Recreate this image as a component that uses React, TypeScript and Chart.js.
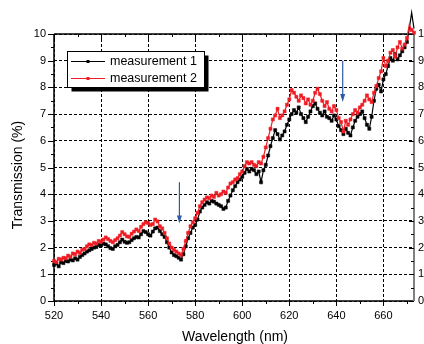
import { useEffect, useRef } from 'react';
import { Chart, registerables } from 'chart.js';

Chart.register(...registerables);

// wavelength grid: 520 … 673 nm, 1 nm sampling
const startWavelength = 520;
const sampleCount = 154;
const wavelengths: number[] = Array.from({ length: sampleCount }, (_, i) => startWavelength + i);

// measurement 1 (black)
const measurement1: number[] = [
  1.35, 1.40, 1.30, 1.45, 1.42, 1.50, 1.48, 1.55, 1.52, 1.60,
  1.55, 1.65, 1.72, 1.78, 1.85, 1.90, 1.95, 2.00, 2.02, 2.10,
  2.08, 2.15, 2.12, 2.05, 1.98, 1.95, 2.05, 2.10, 2.20, 2.30,
  2.22, 2.18, 2.20, 2.28, 2.35, 2.40, 2.38, 2.50, 2.62, 2.58,
  2.50, 2.45, 2.60, 2.72, 2.75, 2.62, 2.50, 2.40, 2.20, 2.00,
  1.82, 1.72, 1.68, 1.62, 1.55, 1.75, 2.05, 2.35, 2.55, 2.75,
  2.85, 3.05, 3.35, 3.50, 3.60, 3.70, 3.65, 3.75, 3.72, 3.65,
  3.60, 3.55, 3.45, 3.50, 3.75, 3.95, 4.15, 4.30, 4.45, 4.55,
  4.65, 4.80, 4.95, 4.85, 4.95, 4.90, 4.75, 4.85, 4.45, 4.90,
  5.10, 5.45, 5.80, 6.10, 6.40, 6.25, 6.05, 6.20, 6.35, 6.60,
  6.80, 7.00, 7.15, 7.05, 7.25, 7.00, 6.85, 6.70, 6.90, 7.10,
  7.30, 7.40, 7.20, 7.05, 6.95, 7.10, 6.90, 6.85, 6.75, 6.95,
  6.80, 6.55, 6.40, 6.25, 6.45, 6.30, 6.20, 6.50, 6.75, 6.90,
  7.00, 7.10, 6.85, 6.60, 6.45, 6.90, 7.50, 7.95, 8.10, 7.85,
  8.30, 8.50, 8.80, 9.10, 9.00, 9.25, 9.05, 9.20, 9.35, 9.50,
  9.70, 10.20, 10.80, 10.20,
];

// measurement 2 (red)
const measurement2: number[] = [
  1.50, 1.45, 1.58, 1.55, 1.62, 1.60, 1.70, 1.65, 1.78, 1.75,
  1.85, 1.80, 1.92, 1.95, 2.05, 2.12, 2.10, 2.18, 2.15, 2.25,
  2.22, 2.30, 2.38, 2.32, 2.25, 2.20, 2.28, 2.35, 2.45, 2.58,
  2.50, 2.42, 2.40, 2.52, 2.60, 2.68, 2.62, 2.78, 2.88, 2.95,
  2.92, 2.85, 2.88, 3.05, 2.98, 2.80, 2.72, 2.55, 2.35, 2.15,
  2.00, 1.92, 1.85, 1.78, 1.72, 1.95, 2.25, 2.55, 2.80, 2.95,
  3.10, 3.30, 3.55, 3.70, 3.80, 3.88, 3.85, 3.95, 3.90, 4.05,
  3.95, 4.00, 4.10, 4.05, 4.25, 4.40, 4.45, 4.55, 4.60, 4.75,
  4.85, 5.05, 5.20, 5.15, 5.20, 5.10, 5.05, 5.20, 5.15, 5.40,
  5.75, 6.10, 6.45, 6.80, 6.95, 7.20, 6.85, 6.95, 7.10, 7.35,
  7.55, 7.90, 7.80, 7.65, 7.50, 7.70, 7.60, 7.40, 7.55, 7.35,
  7.50, 7.80, 7.95, 7.75, 7.50, 7.30, 7.45, 7.20, 7.10, 7.30,
  7.15, 6.85, 6.70, 6.35, 6.75, 6.60, 6.80, 7.00, 7.15, 7.05,
  7.25, 7.35, 7.50, 7.70, 7.55, 7.45, 7.80, 8.05, 8.35, 8.60,
  9.10, 8.80, 9.00, 9.30, 9.40, 9.15, 9.50, 9.70, 9.45, 9.60,
  9.85, 10.35, 10.15, 10.05,
];

const seriesLabels = ['measurement 1', 'measurement 2'];
const seriesColors = ['#000000', '#ee1c24'];

// axis ticks
const xMajorTicks = [520, 540, 560, 580, 600, 620, 640, 660];
const xMinorTicks = [530, 550, 570, 590, 610, 630, 650, 670];
const yMajorTicks = [0, 1, 2, 3, 4, 5, 6, 7, 8, 9, 10];
const yMinorTicks = [0.5, 1.5, 2.5, 3.5, 4.5, 5.5, 6.5, 7.5, 8.5, 9.5];

// annotation arrows (data coordinates)
const arrowX = [573.3, 642.7];
const arrowTop = [4.45, 9.0];
const arrowBottom = [2.9, 7.45];

const FONT = '"Liberation Sans", Arial, Helvetica, sans-serif';

const decorPlugin = {
  id: 'decor',
  beforeDatasetsDraw(chart: any) {
    const { ctx, chartArea: a } = chart;
    const xs = chart.scales.x;
    const ys = chart.scales.y;
    ctx.save();
    // frame
    ctx.strokeStyle = '#000';
    ctx.lineWidth = 1.5;
    ctx.beginPath();
    ctx.moveTo(a.left, a.top);
    ctx.lineTo(a.right, a.top);
    ctx.moveTo(a.left, a.top);
    ctx.lineTo(a.left, a.bottom);
    ctx.lineTo(a.right, a.bottom);
    ctx.stroke();
    ctx.strokeStyle = '#808080';
    ctx.lineWidth = 2;
    ctx.beginPath();
    ctx.moveTo(a.right, a.top);
    ctx.lineTo(a.right, a.bottom);
    ctx.stroke();
    // ticks
    ctx.strokeStyle = '#000';
    ctx.lineWidth = 1;
    const tick = (x1: number, y1: number, x2: number, y2: number) => {
      ctx.beginPath();
      ctx.moveTo(x1, y1);
      ctx.lineTo(x2, y2);
      ctx.stroke();
    };
    xMajorTicks.forEach((v) => {
      const p = Math.round(xs.getPixelForValue(v)) + 0.5;
      tick(p, a.bottom, p, a.bottom + 5);
      tick(p, a.top, p, a.top + 5);
    });
    xMinorTicks.forEach((v) => {
      const p = Math.round(xs.getPixelForValue(v)) + 0.5;
      tick(p, a.bottom, p, a.bottom + 3);
      tick(p, a.top, p, a.top + 3);
    });
    yMajorTicks.forEach((v) => {
      const p = Math.round(ys.getPixelForValue(v)) + 0.5;
      tick(a.left - 6, p, a.left, p);
      tick(a.right - 5, p, a.right, p);
    });
    yMinorTicks.forEach((v) => {
      const p = Math.round(ys.getPixelForValue(v)) + 0.5;
      tick(a.left - 3, p, a.left, p);
      tick(a.right - 3, p, a.right, p);
    });
    // axis titles
    ctx.fillStyle = '#000';
    ctx.font = `14px ${FONT}`;
    ctx.textAlign = 'center';
    ctx.textBaseline = 'middle';
    ctx.fillText('Wavelength (nm)', (a.left + a.right) / 2 + 1, 337);
    ctx.save();
    ctx.translate(18, 175);
    ctx.rotate(-Math.PI / 2);
    ctx.fillText('Transmission (%)', 0, 0);
    ctx.restore();
    ctx.restore();
  },
  afterDraw(chart: any) {
    const { ctx } = chart;
    const xs = chart.scales.x;
    const ys = chart.scales.y;
    ctx.save();
    // arrows
    ctx.strokeStyle = '#2f5aa8';
    ctx.fillStyle = '#2f5aa8';
    ctx.lineWidth = 1.2;
    arrowX.forEach((xv, i) => {
      const px = xs.getPixelForValue(xv);
      const pt = ys.getPixelForValue(arrowTop[i]);
      const pb = ys.getPixelForValue(arrowBottom[i]);
      ctx.beginPath();
      ctx.moveTo(px, pt);
      ctx.lineTo(px, pb - 6);
      ctx.stroke();
      ctx.beginPath();
      ctx.moveTo(px - 2.5, pb - 8);
      ctx.lineTo(px + 2.5, pb - 8);
      ctx.lineTo(px, pb);
      ctx.closePath();
      ctx.fill();
    });
    // legend
    const bx = 67, by = 51, bw = 137, bh = 36;
    ctx.fillStyle = '#000';
    ctx.fillRect(bx + 4.5, by + 4.5, bw, bh);
    ctx.fillStyle = '#fff';
    ctx.fillRect(bx, by, bw, bh);
    ctx.strokeStyle = '#000';
    ctx.lineWidth = 1;
    ctx.strokeRect(bx + 0.5, by + 0.5, bw, bh);
    ctx.font = `12.5px ${FONT}`;
    ctx.textAlign = 'left';
    ctx.textBaseline = 'middle';
    seriesLabels.forEach((lab, i) => {
      const y = by + 10.5 + i * 17;
      ctx.strokeStyle = seriesColors[i];
      ctx.lineWidth = 1;
      ctx.beginPath();
      ctx.moveTo(bx + 4, y);
      ctx.lineTo(bx + 38, y);
      ctx.stroke();
      ctx.fillStyle = seriesColors[i];
      ctx.fillRect(bx + 19.5, y - 1.5, 3, 3);
      ctx.fillStyle = '#000';
      ctx.fillText(lab, bx + 43, y + 0.5);
    });
    ctx.restore();
  },
};

export default function App() {
  const canvasRef = useRef<HTMLCanvasElement | null>(null);

  useEffect(() => {
    const canvas = canvasRef.current;
    if (!canvas) return;
    const toPoints = (vals: number[]) => wavelengths.map((x, i) => ({ x, y: vals[i] }));
    const chart = new Chart(canvas, {
      type: 'line',
      data: {
        datasets: [
          {
            label: seriesLabels[0],
            data: toPoints(measurement1),
            borderColor: seriesColors[0],
            backgroundColor: seriesColors[0],
            borderWidth: 1.2,
            pointStyle: 'rect',
            pointRadius: 2.2,
            pointBorderWidth: 0.5,
            pointBorderColor: seriesColors[0],
            tension: 0,
            clip: false as any,
            order: 1,
          },
          {
            label: seriesLabels[1],
            data: toPoints(measurement2),
            borderColor: seriesColors[1],
            backgroundColor: seriesColors[1],
            borderWidth: 1.2,
            pointStyle: 'rect',
            pointRadius: 2.2,
            pointBorderWidth: 0.5,
            pointBorderColor: seriesColors[1],
            tension: 0,
            clip: false as any,
            order: 0,
          },
        ],
      },
      options: {
        responsive: false,
        animation: false,
        devicePixelRatio: 1,
        layout: { padding: { top: 34, left: 0, right: 0, bottom: 0 } },
        plugins: { legend: { display: false }, tooltip: { enabled: false } },
        events: [],
        scales: {
          x: {
            type: 'linear',
            position: 'bottom',
            min: 520,
            max: 673,
            afterBuildTicks: (s: any) => {
              s.ticks = xMajorTicks.map((v) => ({ value: v }));
            },
            afterFit: (s: any) => {
              s.height = 43;
            },
            grid: { color: '#000', lineWidth: 1, drawTicks: false },
            border: { display: false, dash: [3, 2] },
            ticks: {
              color: '#000',
              font: { family: FONT, size: 11 },
              padding: 8,
              maxRotation: 0,
              autoSkip: false,
            },
          },
          y: {
            type: 'linear',
            position: 'left',
            min: 0,
            max: 10,
            afterBuildTicks: (s: any) => {
              s.ticks = yMajorTicks.map((v) => ({ value: v }));
            },
            afterFit: (s: any) => {
              s.width = 54;
            },
            grid: { color: '#000', lineWidth: 1, drawTicks: false },
            border: { display: false, dash: [3, 2] },
            ticks: {
              color: '#000',
              font: { family: FONT, size: 11 },
              padding: 8,
              autoSkip: false,
            },
          },
          y2: {
            type: 'linear',
            position: 'right',
            min: 0,
            max: 10,
            afterBuildTicks: (s: any) => {
              s.ticks = yMajorTicks.map((v) => ({ value: v }));
            },
            afterFit: (s: any) => {
              s.width = 10;
            },
            grid: { display: false, drawTicks: false },
            border: { display: false },
            ticks: {
              color: '#000',
              font: { family: FONT, size: 11 },
              padding: 4,
              autoSkip: false,
            },
          },
        },
      } as any,
      plugins: [decorPlugin],
    });
    return () => chart.destroy();
  }, []);

  return (
    <div style={{ position: 'fixed', left: 0, top: 0, width: 424, height: 344, background: '#fff' }}>
      <canvas ref={canvasRef} width={424} height={344} style={{ display: 'block', width: 424, height: 344 }} />
    </div>
  );
}
